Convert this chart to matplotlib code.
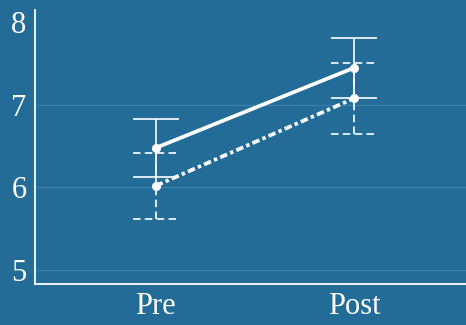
import matplotlib
matplotlib.use('Agg')
import matplotlib.pyplot as plt
import numpy as np

# data
conditions = ['Pre', 'Post']
group_a_mean = [6.48, 7.45]
group_a_err = [0.35, 0.36]
group_b_mean = [6.02, 7.08]
group_b_err = [0.40, 0.43]

bg = '#236c97'
fg = 'white'

plt.rcParams['font.family'] = ['Liberation Serif', 'DejaVu Serif']

fig = plt.figure(figsize=(4.66, 3.25), dpi=100, facecolor=bg)
ax = fig.add_axes([0.075, 0.126, 0.925, 0.843], facecolor=bg)

x = np.arange(len(conditions))
cap = 0.115

def draw_series(mean, err, ls, bar_ls):
    mean = np.asarray(mean)
    err = np.asarray(err)
    ax.vlines(x, mean - err, mean + err, colors=fg, linewidth=1.2, linestyles=bar_ls, zorder=3)
    for y in (mean - err, mean + err):
        ax.hlines(y, x - cap, x + cap, colors=fg, linewidth=1.2, linestyles=bar_ls, zorder=3)
    ax.plot(x, mean, color=fg, linewidth=2.7, linestyle=ls, marker='o',
            markersize=5.5, zorder=4)

draw_series(group_a_mean, group_a_err, '-', '-')
draw_series(group_b_mean, group_b_err, (0, (2, 0.9, 0.9, 0.9)), (0, (4.5, 2.6)))

ax.set_xlim(-0.609, 1.565)
ax.set_ylim(4.83, 8.15)
ax.set_yticks([5, 6, 7, 8])
ax.set_xticks(x)
ax.set_xticklabels(conditions)
ax.grid(True, axis='y', color='#3b83ad', linewidth=0.9, zorder=0)
ax.set_axisbelow(True)
ax.yaxis.get_gridlines()[-1].set_visible(False)

for s in ('top', 'right'):
    ax.spines[s].set_visible(False)
for s in ('left', 'bottom'):
    ax.spines[s].set_color(fg)
    ax.spines[s].set_linewidth(1.3)

ax.tick_params(axis='both', length=0, colors=fg, labelsize=22)
ax.tick_params(axis='y', pad=6)
ax.tick_params(axis='x', pad=6)

fig.savefig('out.png', dpi=100, facecolor=bg)
